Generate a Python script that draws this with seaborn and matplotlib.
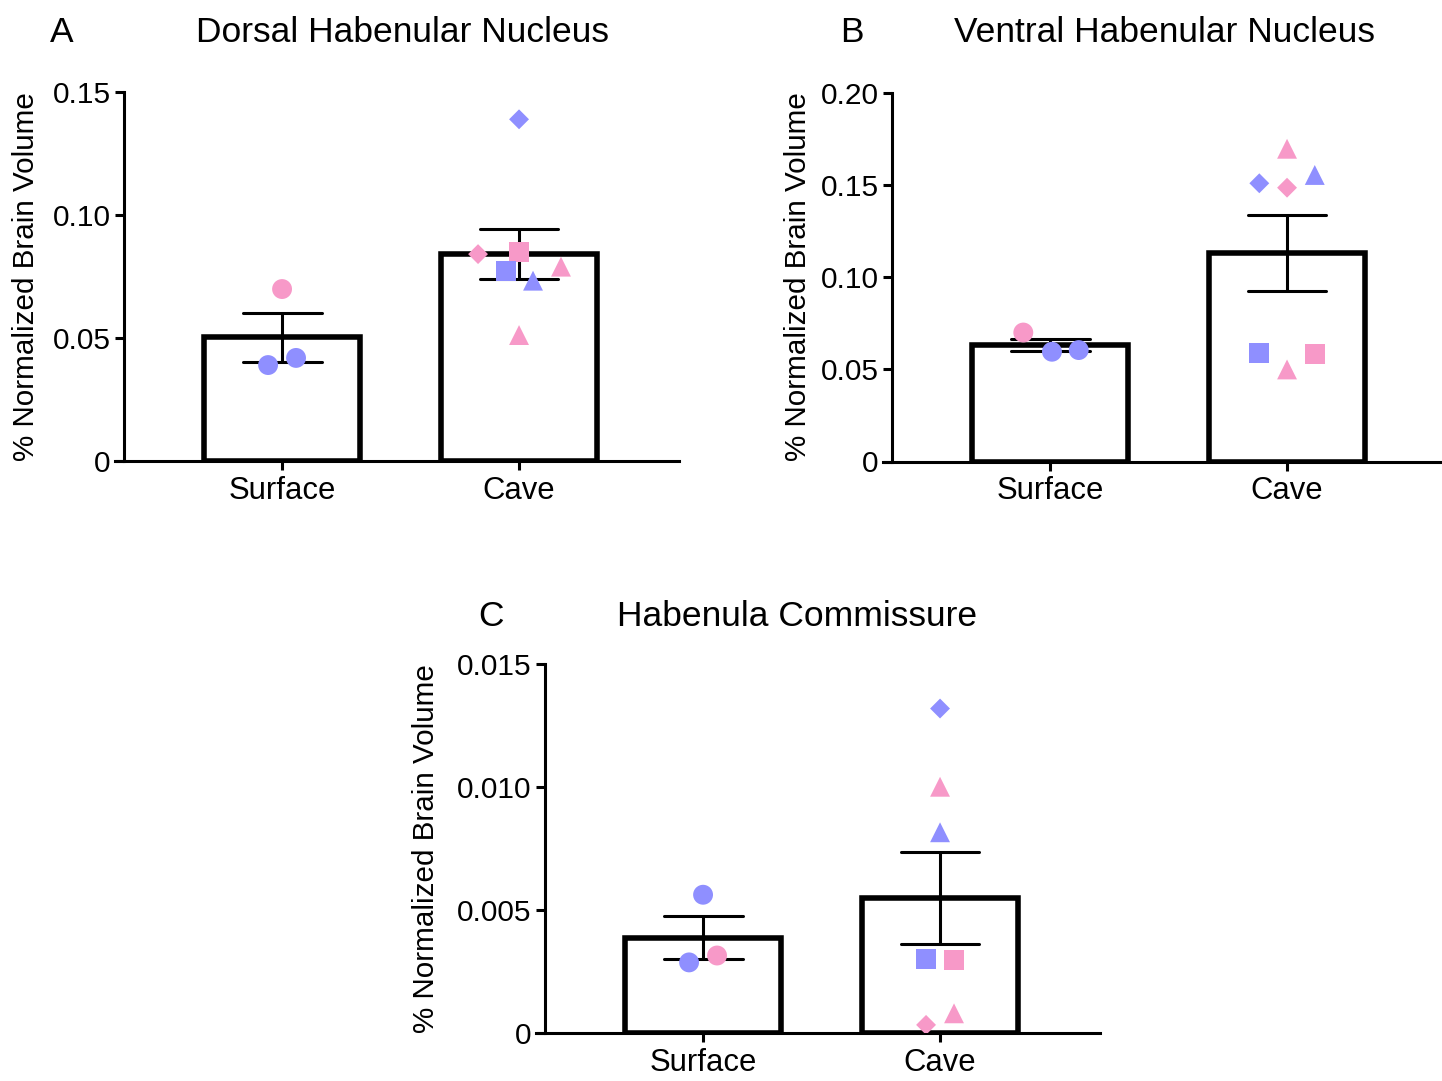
import numpy as np
import pandas as pd
import seaborn as sns
import matplotlib.pyplot as plt
from matplotlib.path import Path

# ---- data ----
order = ["Surface", "Cave"]

# panel A - dorsal habenular nucleus
a_habitat = ["Surface"] * 3 + ["Cave"] * 7
a_sex = ["F", "M", "M", "M", "F", "F", "M", "M", "F", "F"]
a_group = ["surface", "surface", "surface", "diamond", "diamond", "square", "square", "triangle", "triangle", "triangle"]
a_values = [0.0699, 0.0390, 0.0419, 0.1389, 0.0841, 0.0851, 0.0772, 0.0733, 0.0790, 0.0512]
a_jitter = [0, -0.059, 0.059, 0, -0.173, 0, -0.055, 0.059, 0.177, 0]

# panel B - ventral habenular nucleus
b_habitat = ["Surface"] * 3 + ["Cave"] * 7
b_sex = ["F", "M", "M", "F", "M", "F", "M", "M", "F", "F"]
b_group = ["surface", "surface", "surface", "triangle", "diamond", "diamond", "triangle", "square", "square", "triangle"]
b_values = [0.0699, 0.0595, 0.0604, 0.1695, 0.1508, 0.1484, 0.1553, 0.0586, 0.0581, 0.0499]
b_jitter = [-0.113, 0.008, 0.121, 0, -0.117, 0, 0.117, -0.117, 0.117, 0]

# panel C - habenula commissure
c_habitat = ["Surface"] * 3 + ["Cave"] * 7
c_sex = ["M", "M", "F", "M", "F", "M", "M", "F", "F", "F"]
c_group = ["surface", "surface", "surface", "diamond", "triangle", "triangle", "square", "square", "diamond", "triangle"]
c_values = [0.00562, 0.00287, 0.00315, 0.01319, 0.01001, 0.00816, 0.00300, 0.00298, 0.00033, 0.00080]
c_jitter = [0, -0.059, 0.059, 0, 0, 0, -0.059, 0.059, -0.059, 0.059]

sns.set_style("ticks")
plt.rcParams["font.family"] = ["Liberation Sans", "DejaVu Sans"]
plt.rcParams.update({"text.color": "black", "axes.labelcolor": "black",
                     "xtick.color": "black", "ytick.color": "black",
                     "axes.edgecolor": "black"})

palette = {"M": "#8F8FFF", "F": "#F799C8"}
diamond = Path([(0, 1), (1, 0), (0, -1), (-1, 0), (0, 1)], closed=True)
markers = {"surface": "o", "square": "s", "triangle": "^", "diamond": diamond}

fig = plt.figure(figsize=(14.42, 10.81), dpi=100)


def panel(rect, habitat, sex, group, values, jitter, yticks, yticklabels, label_x):
    ax = fig.add_axes(rect)
    df = pd.DataFrame({"habitat": habitat, "sex": sex, "group": group, "value": values})
    df["xpos"] = [order.index(h) + j for h, j in zip(habitat, jitter)]

    sns.barplot(data=df, x="habitat", y="value", order=order, errorbar="se",
                capsize=0.333, width=0.66, color="white", edgecolor="black",
                linewidth=4.0, err_kws={"color": "black", "linewidth": 2.2}, ax=ax)
    sns.scatterplot(data=df, x="xpos", y="value", hue="sex", style="group",
                    palette=palette, markers=markers, s=205, linewidth=0,
                    legend=False, zorder=3, ax=ax)

    ax.set_xlim(-0.705, 1.675)
    ax.set_ylim(0, yticks[-1])
    ax.set_xticks([0, 1])
    ax.set_xticklabels(order)
    ax.set_yticks(yticks)
    ax.set_yticklabels(yticklabels)
    ax.spines["top"].set_visible(False)
    ax.spines["right"].set_visible(False)
    ax.spines["left"].set_position(("data", -0.667))
    for s in ["left", "bottom"]:
        ax.spines[s].set_linewidth(2.2)
    ax.tick_params(axis="both", length=6.5, width=2.2, color="black")
    ax.tick_params(axis="y", pad=3, labelsize=21.5)
    ax.tick_params(axis="x", pad=4, labelsize=22.3)
    ax.set_xlabel("")
    ax.set_ylabel("% Normalized Brain Volume", fontsize=21.3)
    ax.yaxis.set_label_coords(label_x, 0.5)
    return ax


W = 564 / 1442
H = 369 / 1081
panel([115 / 1442, 1 - 461 / 1081, W, H], a_habitat, a_sex, a_group, a_values, a_jitter,
      [0, 0.05, 0.10, 0.15], ["0", "0.05", "0.10", "0.15"], -0.133)
panel([883 / 1442, 1 - 461.5 / 1081, W, H], b_habitat, b_sex, b_group, b_values, b_jitter,
      [0, 0.05, 0.10, 0.15, 0.20], ["0", "0.05", "0.10", "0.15", "0.20"], -0.126)
panel([536 / 1442, 1 - 1033 / 1081, W, H], c_habitat, c_sex, c_group, c_values, c_jitter,
      [0, 0.005, 0.010, 0.015], ["0", "0.005", "0.010", "0.015"], -0.170)

# panel letters and titles
for letter, lx, tx, ty, title in [("A", 62, 403, 32, "Dorsal Habenular Nucleus"),
                                  ("B", 852, 1165, 32, "Ventral Habenular Nucleus"),
                                  ("C", 491, 797, 617, "Habenula Commissure")]:
    fig.text(lx / 1442, 1 - ty / 1081, letter, fontsize=25.5, ha="center", va="center")
    fig.text(tx / 1442, 1 - ty / 1081, title, fontsize=25.5, ha="center", va="center")

fig.savefig("out.png", dpi=100, facecolor="white")
